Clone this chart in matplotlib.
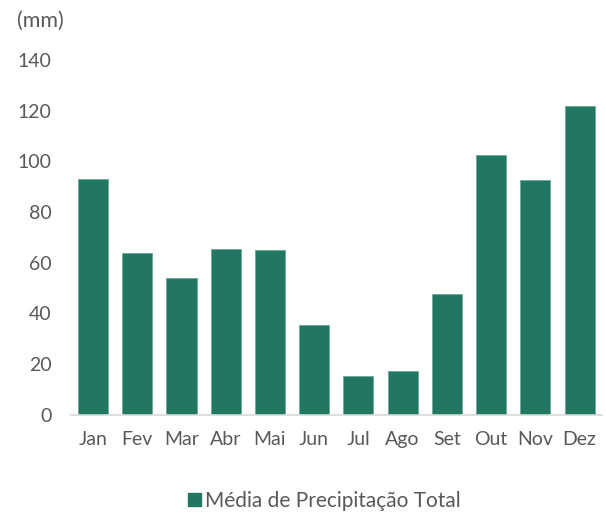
import matplotlib.pyplot as plt
from matplotlib.patches import Patch

plt.rcParams['font.family'] = ['Lato', 'DejaVu Sans']

meses = ["Jan", "Fev", "Mar", "Abr", "Mai", "Jun", "Jul", "Ago", "Set", "Out", "Nov", "Dez"]
precipitacao = [92.9, 63.7, 53.9, 65.2, 65.0, 35.2, 15.2, 17.1, 47.6, 102.4, 92.6, 122.0]
yticks = [0, 20, 40, 60, 80, 100, 120, 140]

cor = "#217762"
texto = "#595959"

fig = plt.figure(figsize=(6.06, 5.16), dpi=100)
ax = fig.add_axes([0.117, 0.1967, 0.876, 0.687])

ax.bar(meses, precipitacao, width=0.68, color=cor, edgecolor="#6fa898", linewidth=0.6)

ax.set_ylim(0, 140)
ax.set_xlim(-0.5, 11.5)
ax.set_yticks(yticks)
ax.tick_params(axis='y', length=0, labelsize=14, labelcolor=texto, pad=14)
ax.tick_params(axis='x', length=0, labelsize=14, labelcolor=texto, pad=12)

for s in ["top", "right", "left"]:
    ax.spines[s].set_visible(False)
ax.spines["bottom"].set_color("#d9d9d9")
ax.spines["bottom"].set_linewidth(1.2)

fig.text(17 / 606, 1 - 21 / 516, "(mm)", fontsize=15.5, color=texto, va='center', ha='left')

handles = [Patch(facecolor=cor, edgecolor=cor, label="Média de Precipitação Total")]
fig.legend(handles=handles, loc='center', bbox_to_anchor=(0.535, 1 - 501 / 516), frameon=False,
           fontsize=15, labelcolor=texto, handlelength=0.6, handleheight=0.6, handletextpad=0.2)

fig.savefig("out.png", dpi=100)
